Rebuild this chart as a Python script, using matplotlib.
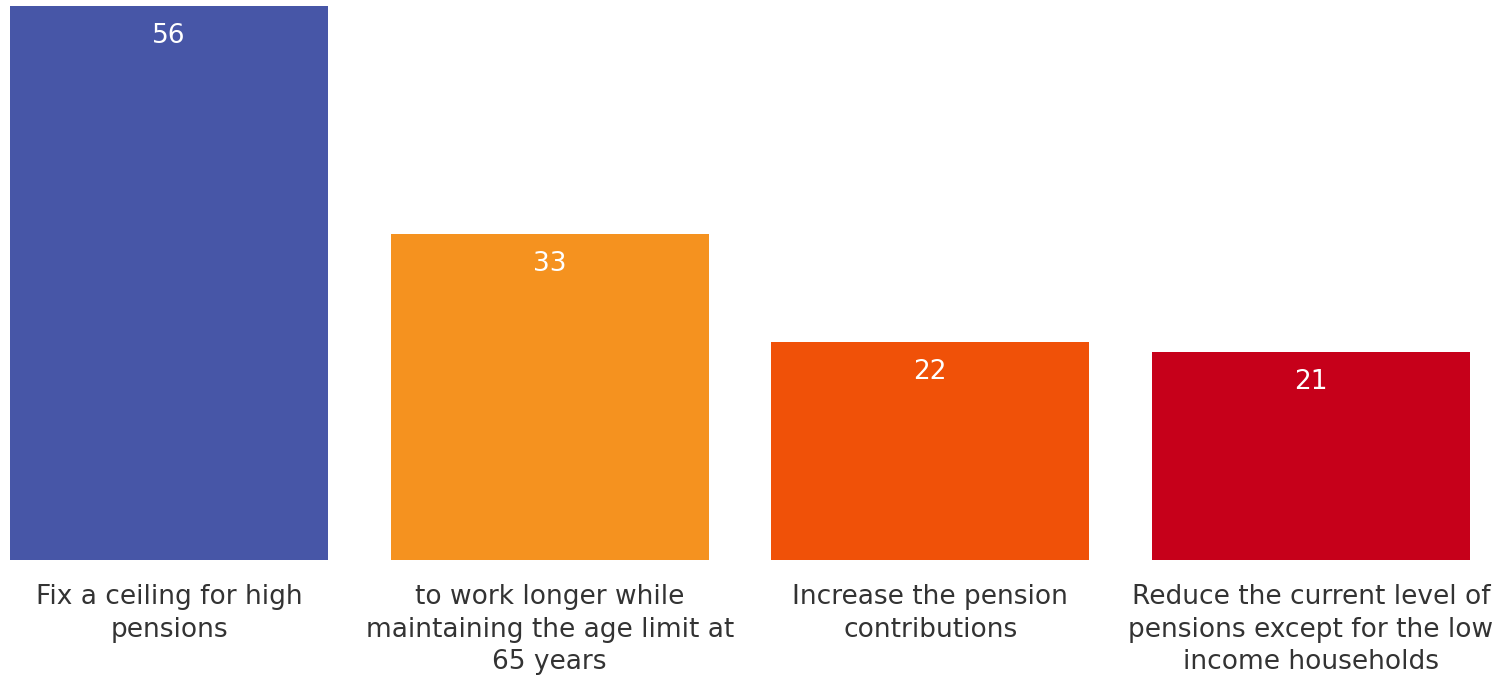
import matplotlib
matplotlib.use("Agg")
import matplotlib.pyplot as plt

categories = [
    "Fix a ceiling for high\npensions",
    "to work longer while\nmaintaining the age limit at\n65 years",
    "Increase the pension\ncontributions",
    "Reduce the current level of\npensions except for the low\nincome households",
]
values = [56, 33, 22, 21]
colors = ["#4756A7", "#F5921F", "#F05108", "#C6001A"]

bar_w = 0.835
fig = plt.figure(figsize=(15.1, 6.75), dpi=100)
ax = fig.add_axes([10 / 1510, 115 / 675, 1460 / 1510, 554 / 675])

x = list(range(len(values)))
bars = ax.bar(x, values, width=bar_w, color=colors)

# value labels inside top of bars
for xi, v in zip(x, values):
    ax.annotate(str(v), (xi, v), xytext=(0, -30), textcoords="offset pixels",
                ha="center", va="center", color="white", fontsize=19)

ax.set_xlim(-bar_w / 2, len(values) - 1 + bar_w / 2)
ax.set_ylim(0, 56)
ax.set_xticks(x)
ax.set_xticklabels(categories, fontsize=19, color="#333333", linespacing=1.32)
ax.tick_params(axis="x", length=0, pad=17.5)
ax.set_yticks([])
for s in ax.spines.values():
    s.set_visible(False)

fig.savefig("out.png", dpi=100)
